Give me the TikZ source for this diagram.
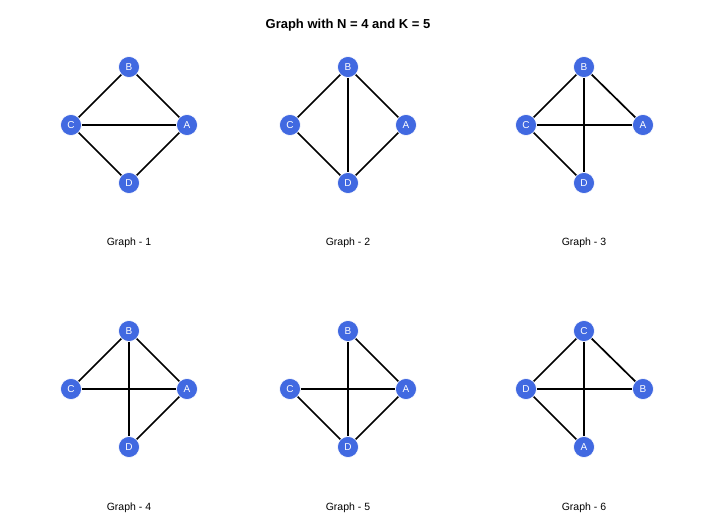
\documentclass[tikz,border=0pt]{standalone}
\usepackage{fontspec}
\setmainfont{Liberation Sans}
\definecolor{royal}{HTML}{4169E1}
\tikzstyle{vertex} = [circle,fill=royal,draw=white,line width=0.6pt,minimum size=21pt,inner sep=0pt,text=white,font=\fontsize{10}{12}\selectfont]
\tikzstyle{caption} = [font=\fontsize{10.5}{12}\selectfont]
\tikzstyle{edge} = [line width=1.7pt]

\begin{document}
\begin{tikzpicture}[x=1pt,y=-1pt]
	\useasboundingbox (0,0) rectangle (716,528);
	\node[font=\bfseries\fontsize{13}{15}\selectfont] (title) at (348,25) {Graph with N = 4 and K = 5};
	
	\node[vertex] (n11) at (187,125) {A};
	\node[vertex] (n12) at (129,67) {B};
	\node[vertex] (n13) at (71,125) {C};
	\node[vertex] (n14) at (129,183) {D};
	\node[caption] (g1) at (129,243) {Graph - 1};
	
	\draw[edge] (n12) -- (n13);
	\draw[edge] (n12) -- (n11);
	\draw[edge] (n13) -- (n11);
	\draw[edge] (n13) -- (n14);
	\draw[edge] (n11) -- (n14);
	
	\node[vertex] (n21) at (406,125) {A};
	\node[vertex] (n22) at (348,67) {B};
	\node[vertex] (n23) at (290,125) {C};
	\node[vertex] (n24) at (348,183) {D};
	\node[caption] (g2) at (348,243) {Graph - 2};
	
	\draw[edge] (n23) -- (n22);
	\draw[edge] (n22) -- (n24);
	\draw[edge] (n22) -- (n21);
	\draw[edge] (n23) -- (n24);
	\draw[edge] (n21) -- (n24);
	
	\node[vertex] (n31) at (643,125) {A};
	\node[vertex] (n32) at (584,67) {B};
	\node[vertex] (n33) at (526,125) {C};
	\node[vertex] (n34) at (584,183) {D};
	\node[caption] (g3) at (584,243) {Graph - 3};
	
	\draw[edge] (n32) -- (n33);
	\draw[edge] (n32) -- (n31);
	\draw[edge] (n32) -- (n34);
	\draw[edge] (n33) -- (n31);
	\draw[edge] (n33) -- (n34);
	
	\node[vertex] (n41) at (187,389) {A};
	\node[vertex] (n42) at (129,331) {B};
	\node[vertex] (n43) at (71,389) {C};
	\node[vertex] (n44) at (129,447) {D};
	\node[caption] (g4) at (129,508) {Graph - 4};
	
	\draw[edge] (n42) -- (n43);
	\draw[edge] (n42) -- (n41);
	\draw[edge] (n42) -- (n44);
	\draw[edge] (n43) -- (n41);
	\draw[edge] (n41) -- (n44);
	
	\node[vertex] (n51) at (406,389) {A};
	\node[vertex] (n52) at (348,331) {B};
	\node[vertex] (n53) at (290,389) {C};
	\node[vertex] (n54) at (348,447) {D};
	\node[caption] (g5) at (348,508) {Graph - 5};
	
	\draw[edge] (n52) -- (n54);
	\draw[edge] (n52) -- (n51);
	\draw[edge] (n53) -- (n51);
	\draw[edge] (n53) -- (n54);
	\draw[edge] (n51) -- (n54);
	
	\node[vertex] (n61) at (584,447) {A};
	\node[vertex] (n62) at (643,389) {B};
	\node[vertex] (n63) at (584,331) {C};
	\node[vertex] (n64) at (526,389) {D};
	\node[caption] (g6) at (584,508) {Graph - 6};
	
	\draw[edge] (n63) -- (n64);
	\draw[edge] (n63) -- (n62);
	\draw[edge] (n63) -- (n61);
	\draw[edge] (n64) -- (n62);
	\draw[edge] (n64) -- (n61);
\end{tikzpicture}
\end{document}
